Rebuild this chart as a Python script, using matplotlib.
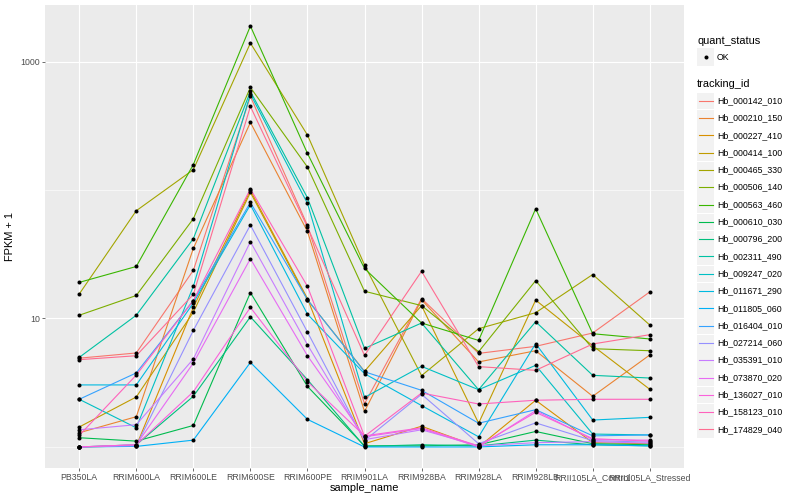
import numpy as np
import matplotlib
matplotlib.use("Agg")
import matplotlib.pyplot as plt
from matplotlib.lines import Line2D
from matplotlib.patches import Rectangle

plt.rcParams['font.family'] = ['Liberation Sans', 'DejaVu Sans']

## samples on the x axis
samples = ["PB350LA", "RRIM600LA", "RRIM600LE", "RRIM600SE", "RRIM600PE",
           "RRIM901LA", "RRIM928BA", "RRIM928LA", "RRIM928LB",
           "RRII105LA_Control", "RRII105LA_Stressed"]

tracking_ids = ["Hb_000142_010", "Hb_000210_150", "Hb_000227_410", "Hb_000414_100",
                "Hb_000465_330", "Hb_000506_140", "Hb_000563_460", "Hb_000610_030",
                "Hb_000796_200", "Hb_002311_490", "Hb_009247_020", "Hb_011671_290",
                "Hb_011805_060", "Hb_016404_010", "Hb_027214_060", "Hb_035391_010",
                "Hb_073870_020", "Hb_136027_010", "Hb_158123_010", "Hb_174829_040"]

## FPKM values (one list per tracking id, in sample order)
fpkm_000142_010 = [3.91, 4.39, 22.7, 534, 52.0, 1.17, 13.3, 4.35, 5.07, 6.71, 15.1]
fpkm_000210_150 = [0.29, 0.72, 34.1, 335, 46.6, 0.89, 13.0, 3.59, 4.61, 1.48, 4.20]
fpkm_000227_410 = [0.00, 0.02, 11.2, 98.3, 13.3, 0.06, 0.45, 0.00, 1.31, 0.08, 0.06]
fpkm_000414_100 = [0.43, 1.45, 10.2, 94.8, 13.0, 2.88, 11.6, 0.53, 12.9, 5.14, 1.81]
fpkm_000465_330 = [14.5, 68.0, 143, 1392, 267, 25.1, 2.59, 7.33, 10.1, 21.0, 7.90]
fpkm_000506_140 = [9.6, 14.1, 58.8, 628, 150, 15.3, 11.6, 4.51, 18.7, 4.82, 4.61]
fpkm_000563_460 = [18.1, 24.4, 157, 1889, 192, 23.5, 8.22, 5.75, 70.5, 6.61, 5.93]
fpkm_000610_030 = [0.18, 0.11, 0.47, 14.9, 1.96, 0.02, 0.02, 0.04, 0.32, 0.06, 0.04]
fpkm_000796_200 = [0.00, 0.04, 1.48, 9.3, 2.34, 0.01, 0.04, 0.02, 0.13, 0.04, 0.02]
fpkm_002311_490 = [3.98, 9.6, 40.8, 584, 86.1, 4.85, 8.22, 1.79, 8.44, 2.61, 2.44]
fpkm_009247_020 = [1.35, 0.41, 16.8, 558, 77.7, 1.43, 3.24, 1.79, 3.32, 0.26, 0.24]
fpkm_011671_290 = [2.04, 2.04, 12.2, 75.8, 9.8, 2.72, 1.10, 0.20, 5.37, 0.62, 0.70]
fpkm_011805_060 = [0.00, 0.01, 0.13, 3.55, 0.64, 0.00, 0.00, 0.00, 0.04, 0.04, 0.02]
fpkm_016404_010 = [1.35, 2.77, 12.8, 79.1, 13.0, 2.85, 1.76, 0.53, 0.95, 0.22, 0.24]
fpkm_027214_060 = [0.00, 0.02, 7.08, 52.4, 6.85, 0.12, 1.57, 0.06, 0.54, 0.12, 0.09]
fpkm_035391_010 = [0.36, 0.49, 3.84, 38.6, 5.25, 0.14, 0.36, 0.02, 0.08, 0.10, 0.07]
fpkm_073870_020 = [0.00, 0.04, 3.50, 28.2, 4.13, 0.20, 0.39, 0.00, 0.92, 0.14, 0.13]
fpkm_136027_010 = [0.00, 0.04, 1.69, 11.2, 2.22, 0.22, 0.41, 0.02, 0.86, 0.16, 0.11]
fpkm_158123_010 = [0.23, 2.63, 12.8, 101, 16.8, 0.21, 1.63, 1.16, 1.31, 1.35, 1.35]
fpkm_174829_040 = [3.78, 4.13, 14.4, 446, 50.5, 4.16, 22.3, 3.22, 2.95, 5.33, 6.48]

fpkm = [fpkm_000142_010, fpkm_000210_150, fpkm_000227_410, fpkm_000414_100,
        fpkm_000465_330, fpkm_000506_140, fpkm_000563_460, fpkm_000610_030,
        fpkm_000796_200, fpkm_002311_490, fpkm_009247_020, fpkm_011671_290,
        fpkm_011805_060, fpkm_016404_010, fpkm_027214_060, fpkm_035391_010,
        fpkm_073870_020, fpkm_136027_010, fpkm_158123_010, fpkm_174829_040]

## ggplot default hue palette for 20 levels
colors = ["#F8766D", "#EA8331", "#D89000", "#C09B00", "#A3A500", "#7CAE00",
          "#39B600", "#00BB4E", "#00BF7D", "#00C1A3", "#00BFC4", "#00BAE0",
          "#00B0F6", "#35A2FF", "#9590FF", "#C77CFF", "#E76BF3", "#FA62DB",
          "#FF62BC", "#FF6C91"]

W, H = 800, 500
fig = plt.figure(figsize=(W / 100, H / 100), dpi=100)
ax = fig.add_axes([45 / W, 32 / H, 639 / W, 463 / H])
ax.set_facecolor("#EBEBEB")

x = np.arange(len(samples))
for vals, col in zip(fpkm, colors):
    ax.plot(x, np.array(vals) + 1, color=col, lw=0.8, zorder=3)
for vals in fpkm:
    ax.plot(x, np.array(vals) + 1, 'o', color='black', ms=2.9, mew=0, zorder=4)

ax.set_yscale('log')
allv = np.log10(np.concatenate([np.array(v) + 1 for v in fpkm]))
lo, hi = allv.min(), allv.max()
pad = 0.05 * (hi - lo)
ax.set_ylim(10 ** (lo - pad), 10 ** (hi + pad))
ax.set_xlim(-0.6, len(samples) - 0.4)

ax.set_yticks([10, 1000])
ax.set_yticklabels(["10", "1000"])
ax.set_yticks([1, 100], minor=True)
ax.yaxis.set_minor_formatter(matplotlib.ticker.NullFormatter())
ax.set_xticks(x)
ax.set_xticklabels(samples)

# grid
ax.grid(True, which='major', color='white', lw=0.8, zorder=1)
ax.grid(True, which='minor', axis='y', color='white', lw=0.4, zorder=1)
ax.set_axisbelow(True)
for s in ax.spines.values():
    s.set_visible(False)

ax.tick_params(axis='both', which='major', length=2.0, width=0.5, color='#333333',
               labelsize=6.3, labelcolor='#4D4D4D', pad=1.5)
ax.tick_params(axis='y', which='minor', length=0)

ax.set_xlabel("sample_name", fontsize=7.9, labelpad=1)
ax.set_ylabel("FPKM + 1", fontsize=7.9, labelpad=4)

# legends (drawn by hand, ggplot style)
def px(xp, yp):
    return xp / W, 1 - yp / H

key = 17.3
kx = 697
fig.text(*px(kx, 41), "quant_status", fontsize=7.9, va='center', ha='left')
fig.add_artist(Rectangle(px(kx, 57 + key / 2), key / W, key / H, color="#F2F2F2", lw=0))
fig.add_artist(Line2D([(kx + key / 2) / W], [1 - 57 / H], marker='o', color='black',
                      ms=2.9, mew=0, ls='none'))
fig.text(*px(kx + 20, 57), "OK", fontsize=6.3, va='center', ha='left')

fig.text(*px(kx, 84), "tracking_id", fontsize=7.9, va='center', ha='left')
for i, (tid, col) in enumerate(zip(tracking_ids, colors)):
    yc = 100.7 + i * key
    fig.add_artist(Rectangle(px(kx, yc + key / 2), key / W, (key - 0.5) / H,
                             color="#F2F2F2", lw=0))
    fig.add_artist(Line2D([(kx + 1.5) / W, (kx + key - 1.5) / W], [1 - yc / H, 1 - yc / H],
                          color=col, lw=0.8))
    fig.text(*px(kx + 20, yc), tid, fontsize=6.3, va='center', ha='left')

fig.savefig("out.png", dpi=100)
